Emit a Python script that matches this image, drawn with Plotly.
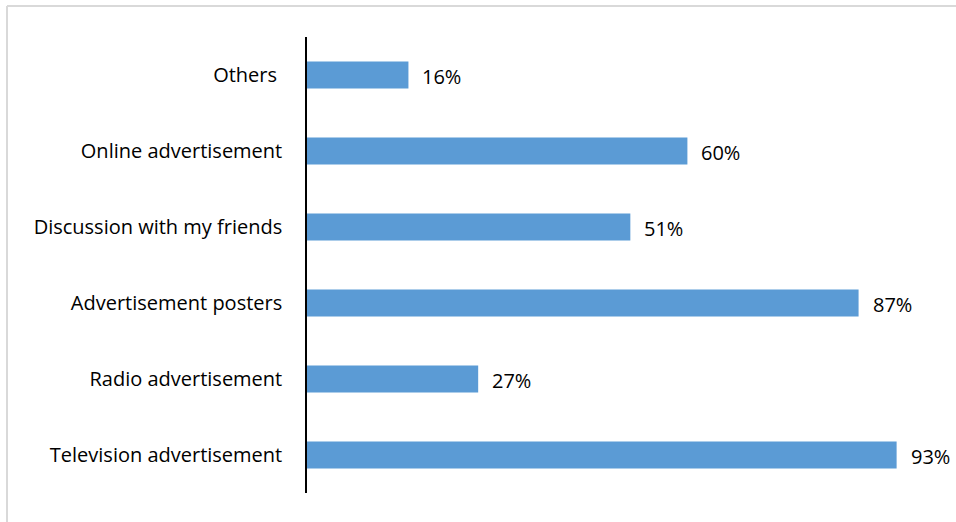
import plotly.graph_objects as go

categories = ["Television advertisement", "Radio advertisement", "Advertisement posters",
              "Discussion with my friends", "Online advertisement", "Others "]
values = [93, 27, 87, 51, 60, 16]
labels = [f"{v}%" for v in values]

font_family = "'Open Sans', sans-serif"
fsize = 20

fig = go.Figure(go.Bar(
    x=values, y=categories, orientation="h",
    marker=dict(color="#5b9bd5", line=dict(width=0)),
    hoverinfo="skip",
))

annotations = [
    dict(x=v, y=c, text=t, xref="x", yref="y", xanchor="left", yanchor="middle",
         xshift=12, yshift=-1, showarrow=False,
         font=dict(size=fsize, color="#000000", family=font_family))
    for v, c, t in zip(values, categories, labels)
]

L, R, T, B = 307, 15, 37, 29
W, H = 956, 522
pw, ph = W - L - R, H - T - B
bx = (7 - L) / pw
by = (H - B - 6) / ph

fig.update_layout(
    width=W, height=H,
    margin=dict(l=L, r=R, t=T, b=B),
    paper_bgcolor="white", plot_bgcolor="white",
    bargap=0.645,
    showlegend=False,
    font=dict(family=font_family, size=fsize, color="#000000"),
    annotations=annotations,
    shapes=[
        dict(type="line", xref="paper", yref="paper", x0=bx, x1=2, y0=by, y1=by,
             line=dict(color="#d9d9d9", width=2)),
        dict(type="line", xref="paper", yref="paper", x0=bx, x1=bx, y0=-1, y1=by,
             line=dict(color="#d9d9d9", width=2)),
    ],
    xaxis=dict(range=[0, 100], visible=False, fixedrange=True),
    yaxis=dict(showline=True, linecolor="#000000", linewidth=1.5, ticks="",
               showgrid=False, zeroline=False, ticklabelstandoff=19,
               tickfont=dict(size=fsize, family=font_family, color="#000000")),
)

fig.write_html("out.html")
